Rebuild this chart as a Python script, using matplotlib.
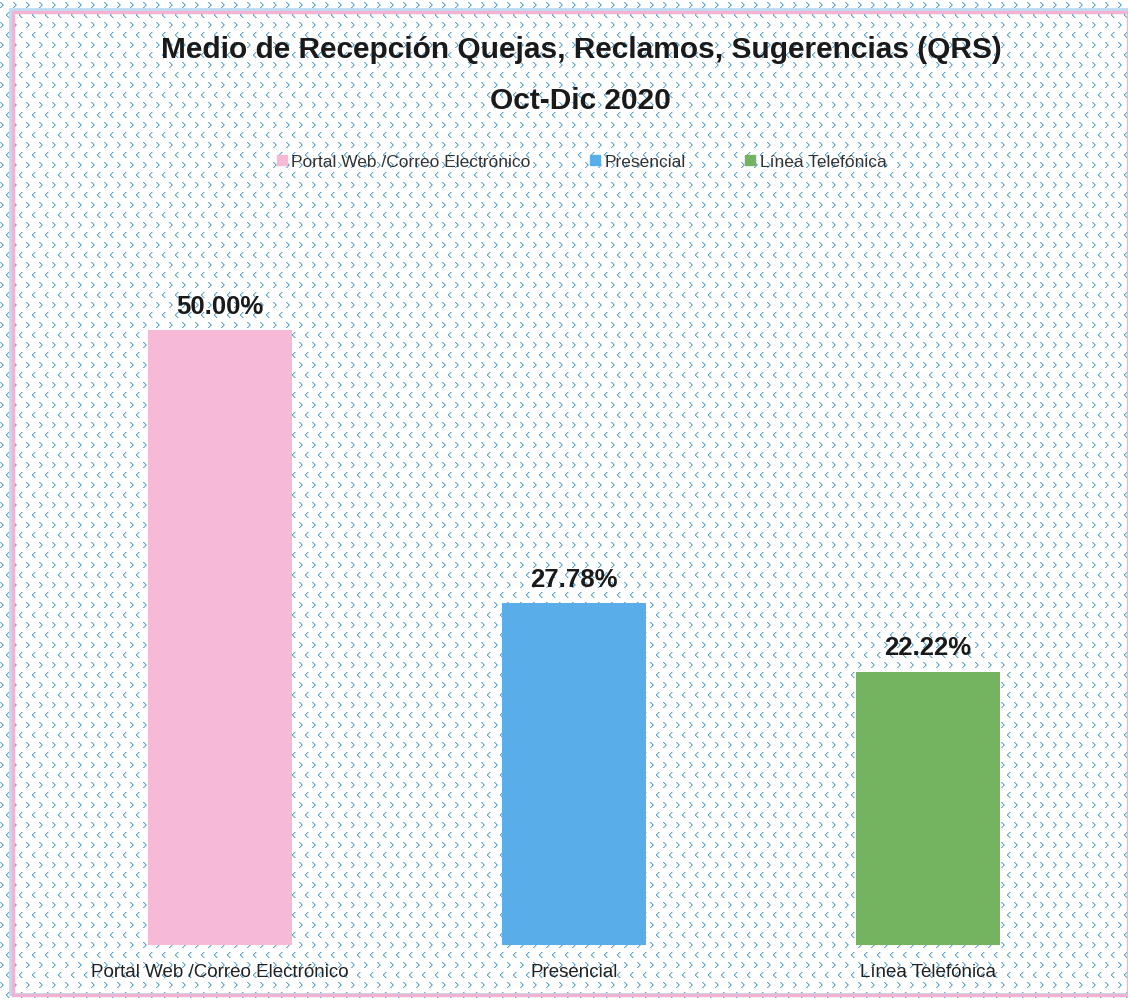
import numpy as np
import matplotlib
matplotlib.use("Agg")
import matplotlib.pyplot as plt
from matplotlib.patches import Rectangle
from matplotlib.lines import Line2D

categories = ["Portal Web /Correo Electrónico", "Presencial", "Línea Telefónica"]
values = [50.00, 27.78, 22.22]
colors = ["#f6b9d6", "#59aeea", "#74b35f"]
title_lines = ["Medio de Recepción Quejas, Reclamos, Sugerencias (QRS)", "Oct-Dic 2020"]

plt.rcParams["font.family"] = ["Liberation Sans", "DejaVu Sans"]

W, H = 1128, 1003
fig = plt.figure(figsize=(W / 100, H / 100), dpi=100)

# background chevron texture
bg = np.ones((H, W, 3))
teal = np.array([0.40, 0.66, 0.82])
teal_l = np.array([0.70, 0.84, 0.92])
tile_w, tile_h = 13, 10
for r, y0 in enumerate(range(3, H, tile_h)):
    off = 0 if r % 2 == 0 else 6
    right = (r % 2 == 0)
    for x0 in range(off, W, tile_w):
        for k in range(6):
            dx = k if k <= 2 else 5 - k
            if not right:
                dx = 2 - dx
            for t, c in ((0, teal), (1, teal_l)):
                yy, xx = y0 + k, x0 + dx + t
                if 0 <= yy < H and 0 <= xx < W:
                    bg[yy, xx] = c
bgax = fig.add_axes([0, 0, 1, 1], zorder=0)
bgax.imshow(bg, extent=[0, W, H, 0], interpolation="nearest", aspect="auto")
bgax.set_xlim(0, W)
bgax.set_ylim(H, 0)
bgax.axis("off")
bgax.add_patch(Rectangle((10, 10), W - 10, H - 18, fill=False, ec="#b9dcf2", lw=2))
bgax.add_patch(Rectangle((13, 13), W - 13, H - 20, fill=False, ec="#f2b3d2", lw=2.5))

ax = fig.add_axes([43 / W, 1 - 946 / H, (1105 - 43) / W, 738 / H], zorder=1)
ax.patch.set_alpha(0)
x = np.arange(len(categories))
bars = ax.bar(x, values, width=0.405, color=colors, zorder=2)
ax.set_xlim(-0.5, len(categories) - 0.5)
ax.set_ylim(0, 60)
for s in ax.spines.values():
    s.set_visible(False)
ax.set_yticks([])
ax.set_xticks(x)
ax.set_xticklabels(categories, fontsize=13.5, color="#222222")
ax.tick_params(axis="x", length=0, pad=13)
for b, v in zip(bars, values):
    ax.annotate(f"{v:.2f}%", (b.get_x() + b.get_width() / 2, b.get_height()),
                xytext=(0, 9), textcoords="offset points", ha="center", va="bottom",
                fontsize=18.5, fontweight="bold", color="#1a1a1a")

fig.text(0.515, 1 - 50 / H, title_lines[0], ha="center", va="center",
         fontsize=21.5, fontweight="bold", color="#1a1a1a")
fig.text(0.515, 1 - 101 / H, title_lines[1], ha="center", va="center",
         fontsize=21.5, fontweight="bold", color="#1a1a1a")

handles = [Line2D([], [], marker="s", ls="", color=c, markersize=7) for c in colors]
fig.legend(handles, categories, loc="center", bbox_to_anchor=(0.514, 1 - 162 / H),
           ncol=3, frameon=False, fontsize=12.5, handletextpad=0.05, columnspacing=3.2,
           handlelength=1.0, labelcolor="#333333")

fig.savefig("out.png", dpi=100)
